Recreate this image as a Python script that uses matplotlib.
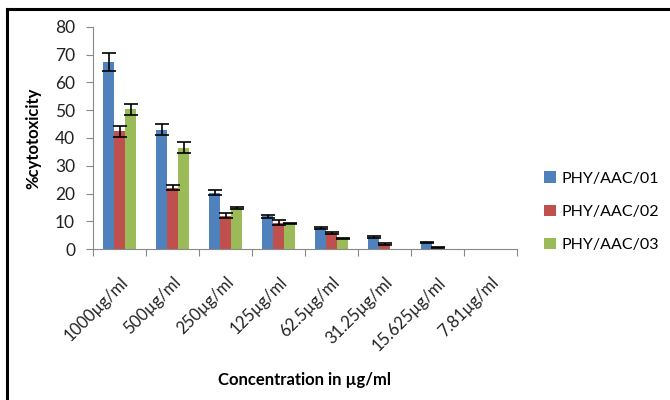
import numpy as np
import matplotlib
matplotlib.use("Agg")
import matplotlib.pyplot as plt
from matplotlib.lines import Line2D

categories = ["1000µg/ml", "500µg/ml", "250µg/ml", "125µg/ml",
              "62.5µg/ml", "31.25µg/ml", "15.625µg/ml", "7.81µg/ml"]
series_names = ["PHY/AAC/01", "PHY/AAC/02", "PHY/AAC/03"]
aac01 = [67.3, 43.0, 20.3, 11.8, 7.5, 4.3, 2.3, 0.0]
aac02 = [42.5, 22.0, 12.0, 9.5, 5.8, 1.8, 0.5, 0.0]
aac03 = [50.3, 36.5, 14.8, 9.2, 3.8, 0.0, 0.0, 0.0]
err01 = [3.3, 2.0, 1.0, 0.6, 0.3, 0.3, 0.2, 0.0]
err02 = [2.0, 0.9, 1.0, 0.8, 0.4, 0.2, 0.1, 0.0]
err03 = [2.0, 2.0, 0.5, 0.3, 0.3, 0.0, 0.0, 0.0]
colors = ["#4F81BD", "#C0504D", "#9BBB59"]

plt.rcParams['font.family'] = ['Lato', 'DejaVu Sans']

fig = plt.figure(figsize=(6.7, 4.0), dpi=100)
ax = fig.add_axes([0.139, 0.3775, 0.633, 0.555])

x = np.arange(len(categories))
w = 0.205
for i, (vals, errs) in enumerate(zip([aac01, aac02, aac03], [err01, err02, err03])):
    xs = x + (i - 1) * w
    ax.bar(xs, vals, width=w, color=colors[i], label=series_names[i])
    # error bars only where there is a bar
    vals = np.array(vals)
    errs = np.array(errs)
    m = vals > 0
    ax.errorbar(xs[m], vals[m], yerr=errs[m], fmt='none', ecolor='black',
                elinewidth=1.2, capsize=5, capthick=1.2)

ax.set_xlim(-0.5, len(categories) - 0.5)
ax.set_ylim(0, 80)
ax.set_yticks(range(0, 81, 10))
ax.tick_params(axis='y', labelsize=12.5, length=5, pad=8, color='#888888', labelcolor='#222222')
ax.set_xticks(np.arange(-0.5, len(categories)), minor=False)
ax.set_xticklabels([])
ax.set_xticks(x, minor=True)
ax.set_xticklabels(categories, minor=True, rotation=45, ha='right', rotation_mode='anchor',
                   fontsize=12, color='#222222')
ax.tick_params(axis='x', which='minor', length=0, pad=18)
ax.tick_params(axis='x', which='major', length=5, color='#888888')
for s in ['top', 'right']:
    ax.spines[s].set_visible(False)
for s in ['left', 'bottom']:
    ax.spines[s].set_color('#888888')

ax.set_ylabel("%cytotoxicity", fontsize=12, fontweight='bold', labelpad=10)
fig.text(0.455, 0.05, "Concentration in µg/ml", fontsize=12, fontweight='bold',
         ha='center', va='center')

ax.legend(loc='center left', bbox_to_anchor=(1.03, 0.167), frameon=False, fontsize=11.5,
          handlelength=0.7, handleheight=0.7, handletextpad=0.4, labelspacing=1.2)

fig.add_artist(Line2D([0.011, 0.011], [0.0, 0.978], color='black', lw=2.2, transform=fig.transFigure))
fig.add_artist(Line2D([0.011, 1.0], [0.978, 0.978], color='black', lw=2.2, transform=fig.transFigure))

fig.savefig("out.png", dpi=100)
